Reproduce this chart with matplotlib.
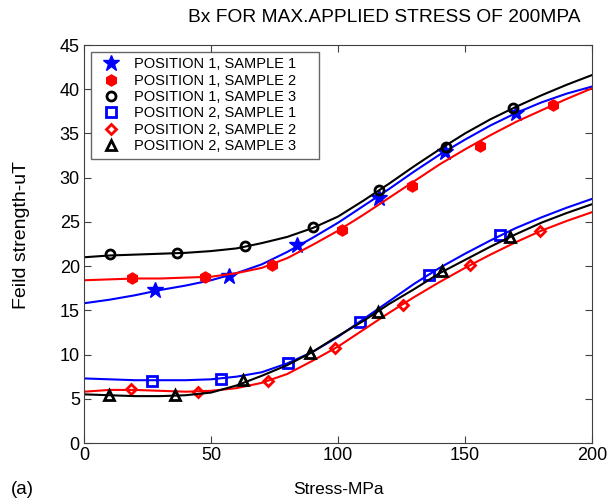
"""Bx vs stress for max applied stress of 200 MPa, two positions, three samples."""

import matplotlib
matplotlib.use('Agg')
import matplotlib.pyplot as plt

plt.rcParams['font.family'] = ['Liberation Sans', 'DejaVu Sans']

# smoothed curves, every 10 MPa
stress = [0, 10, 20, 30, 40, 50, 60, 70, 80, 90, 100,
          110, 120, 130, 140, 150, 160, 170, 180, 190, 200]
p1s1 = [15.8, 16.2, 16.7, 17.3, 17.8, 18.4, 19.2, 20.2, 21.6, 23.2, 24.9,
        26.8, 28.7, 30.7, 32.6, 34.3, 35.9, 37.3, 38.5, 39.5, 40.3]
p1s2 = [18.4, 18.5, 18.6, 18.6, 18.7, 18.8, 19.2, 19.8, 20.9, 22.4, 24.0,
        25.8, 27.7, 29.6, 31.5, 33.2, 34.8, 36.3, 37.6, 38.9, 40.1]
p1s3 = [21.0, 21.2, 21.3, 21.4, 21.5, 21.7, 22.0, 22.6, 23.3, 24.3, 25.6,
        27.4, 29.3, 31.3, 33.2, 35.0, 36.6, 38.0, 39.3, 40.5, 41.6]
p2s1 = [7.3, 7.2, 7.1, 7.1, 7.1, 7.2, 7.5, 8.0, 9.0, 10.3, 12.0,
        14.0, 16.0, 18.0, 19.8, 21.4, 22.9, 24.3, 25.5, 26.6, 27.6]
p2s2 = [5.8, 6.0, 6.0, 5.9, 5.8, 5.9, 6.2, 6.8, 7.8, 9.3, 10.9,
        12.8, 14.7, 16.5, 18.2, 19.8, 21.3, 22.7, 24.0, 25.1, 26.1]
p2s3 = [5.5, 5.4, 5.3, 5.3, 5.4, 5.7, 6.5, 7.6, 8.8, 10.3, 12.1,
        13.8, 15.7, 17.4, 19.2, 20.7, 22.2, 23.6, 24.9, 26.0, 27.0]

# marker positions (measured points)
m_p1s1_x = [28, 57, 84, 116, 142, 170]
m_p1s1_y = [17.3, 18.9, 22.4, 27.7, 32.9, 37.3]
m_p1s2_x = [19, 47.6, 74, 101.4, 129, 156, 184.6]
m_p1s2_y = [18.7, 18.8, 20.1, 24.1, 29.1, 33.6, 38.2]
m_p1s3_x = [10.2, 36.6, 63.4, 90, 116, 142.5, 169]
m_p1s3_y = [21.4, 21.5, 22.3, 24.4, 28.6, 33.5, 37.9]
m_p2s1_x = [26.8, 54, 80.3, 108.7, 136, 163.8]
m_p2s1_y = [7.0, 7.2, 9.1, 13.7, 19.0, 23.5]
m_p2s2_x = [18.5, 45, 72.3, 98.8, 125.6, 152, 179.5]
m_p2s2_y = [6.1, 5.8, 7.0, 10.7, 15.6, 20.1, 24.0]
m_p2s3_x = [10, 36, 62.6, 89, 115.7, 141, 167.7]
m_p2s3_y = [5.4, 5.4, 7.1, 10.2, 14.8, 19.4, 23.3]

labels = ['POSITION 1, SAMPLE 1', 'POSITION 1, SAMPLE 2', 'POSITION 1, SAMPLE 3',
          'POSITION 2, SAMPLE 1', 'POSITION 2, SAMPLE 2', 'POSITION 2, SAMPLE 3']

BLUE = '#0000ff'
RED = '#ff0000'
BLACK = '#000000'

series = [
    (p1s1, m_p1s1_x, m_p1s1_y, BLUE, dict(marker='*', ms=12, mfc=BLUE, mec=BLUE, mew=1)),
    (p1s2, m_p1s2_x, m_p1s2_y, RED, dict(marker='h', ms=8, mfc=RED, mec=RED, mew=1)),
    (p1s3, m_p1s3_x, m_p1s3_y, BLACK, dict(marker='o', ms=6.5, mfc='none', mec=BLACK, mew=2)),
    (p2s1, m_p2s1_x, m_p2s1_y, BLUE, dict(marker='s', ms=6.5, mfc='none', mec=BLUE, mew=2)),
    (p2s2, m_p2s2_x, m_p2s2_y, RED, dict(marker='D', ms=5.5, mfc='none', mec=RED, mew=2)),
    (p2s3, m_p2s3_x, m_p2s3_y, BLACK, dict(marker='^', ms=7, mfc='none', mec=BLACK, mew=2)),
]

fig = plt.figure(figsize=(6.08, 5.01), dpi=100)
ax = fig.add_axes([84 / 608, 1 - 443 / 501, 508 / 608, 398 / 501])

handles = []
for curve, mx, my, color, mstyle in series:
    ax.plot(stress, curve, color=color, lw=1.5)
    ax.plot(mx, my, ls='none', **mstyle)
    h, = ax.plot([], [], color=color, lw=0, **mstyle)
    handles.append(h)

ax.set_xlim(0, 200)
ax.set_ylim(0, 45)
ax.set_xticks([0, 50, 100, 150, 200])
ax.set_yticks(range(0, 46, 5))
ax.tick_params(direction='in', top=True, right=True, labelsize=13,
               length=5, color='#404040', pad=3)
for s in ax.spines.values():
    s.set_color('#404040')

leg = ax.legend(handles, [l + '    ' for l in labels], loc='upper left',
                fontsize=10.5, frameon=True, fancybox=False,
                edgecolor='#404040', borderaxespad=0.45, borderpad=0.4,
                handletextpad=0.6, labelspacing=0.16, handlelength=2.0)
leg.get_frame().set_linewidth(1.0)

fig.text(384 / 608, 1 - 18 / 501, 'Bx FOR MAX.APPLIED STRESS OF 200MPA',
         ha='center', va='center', fontsize=13.8)
fig.text(338 / 608, 1 - 490 / 501, 'Stress-MPa', ha='center', va='center',
         fontsize=12.5)
fig.text(22 / 608, 1 - 235 / 501, 'Feild strength-uT', ha='center',
         va='center', rotation=90, fontsize=14)
fig.text(11 / 608, 1 - 490 / 501, '(a)', ha='left', va='center', fontsize=13.5)

fig.savefig('out.png', dpi=100)
